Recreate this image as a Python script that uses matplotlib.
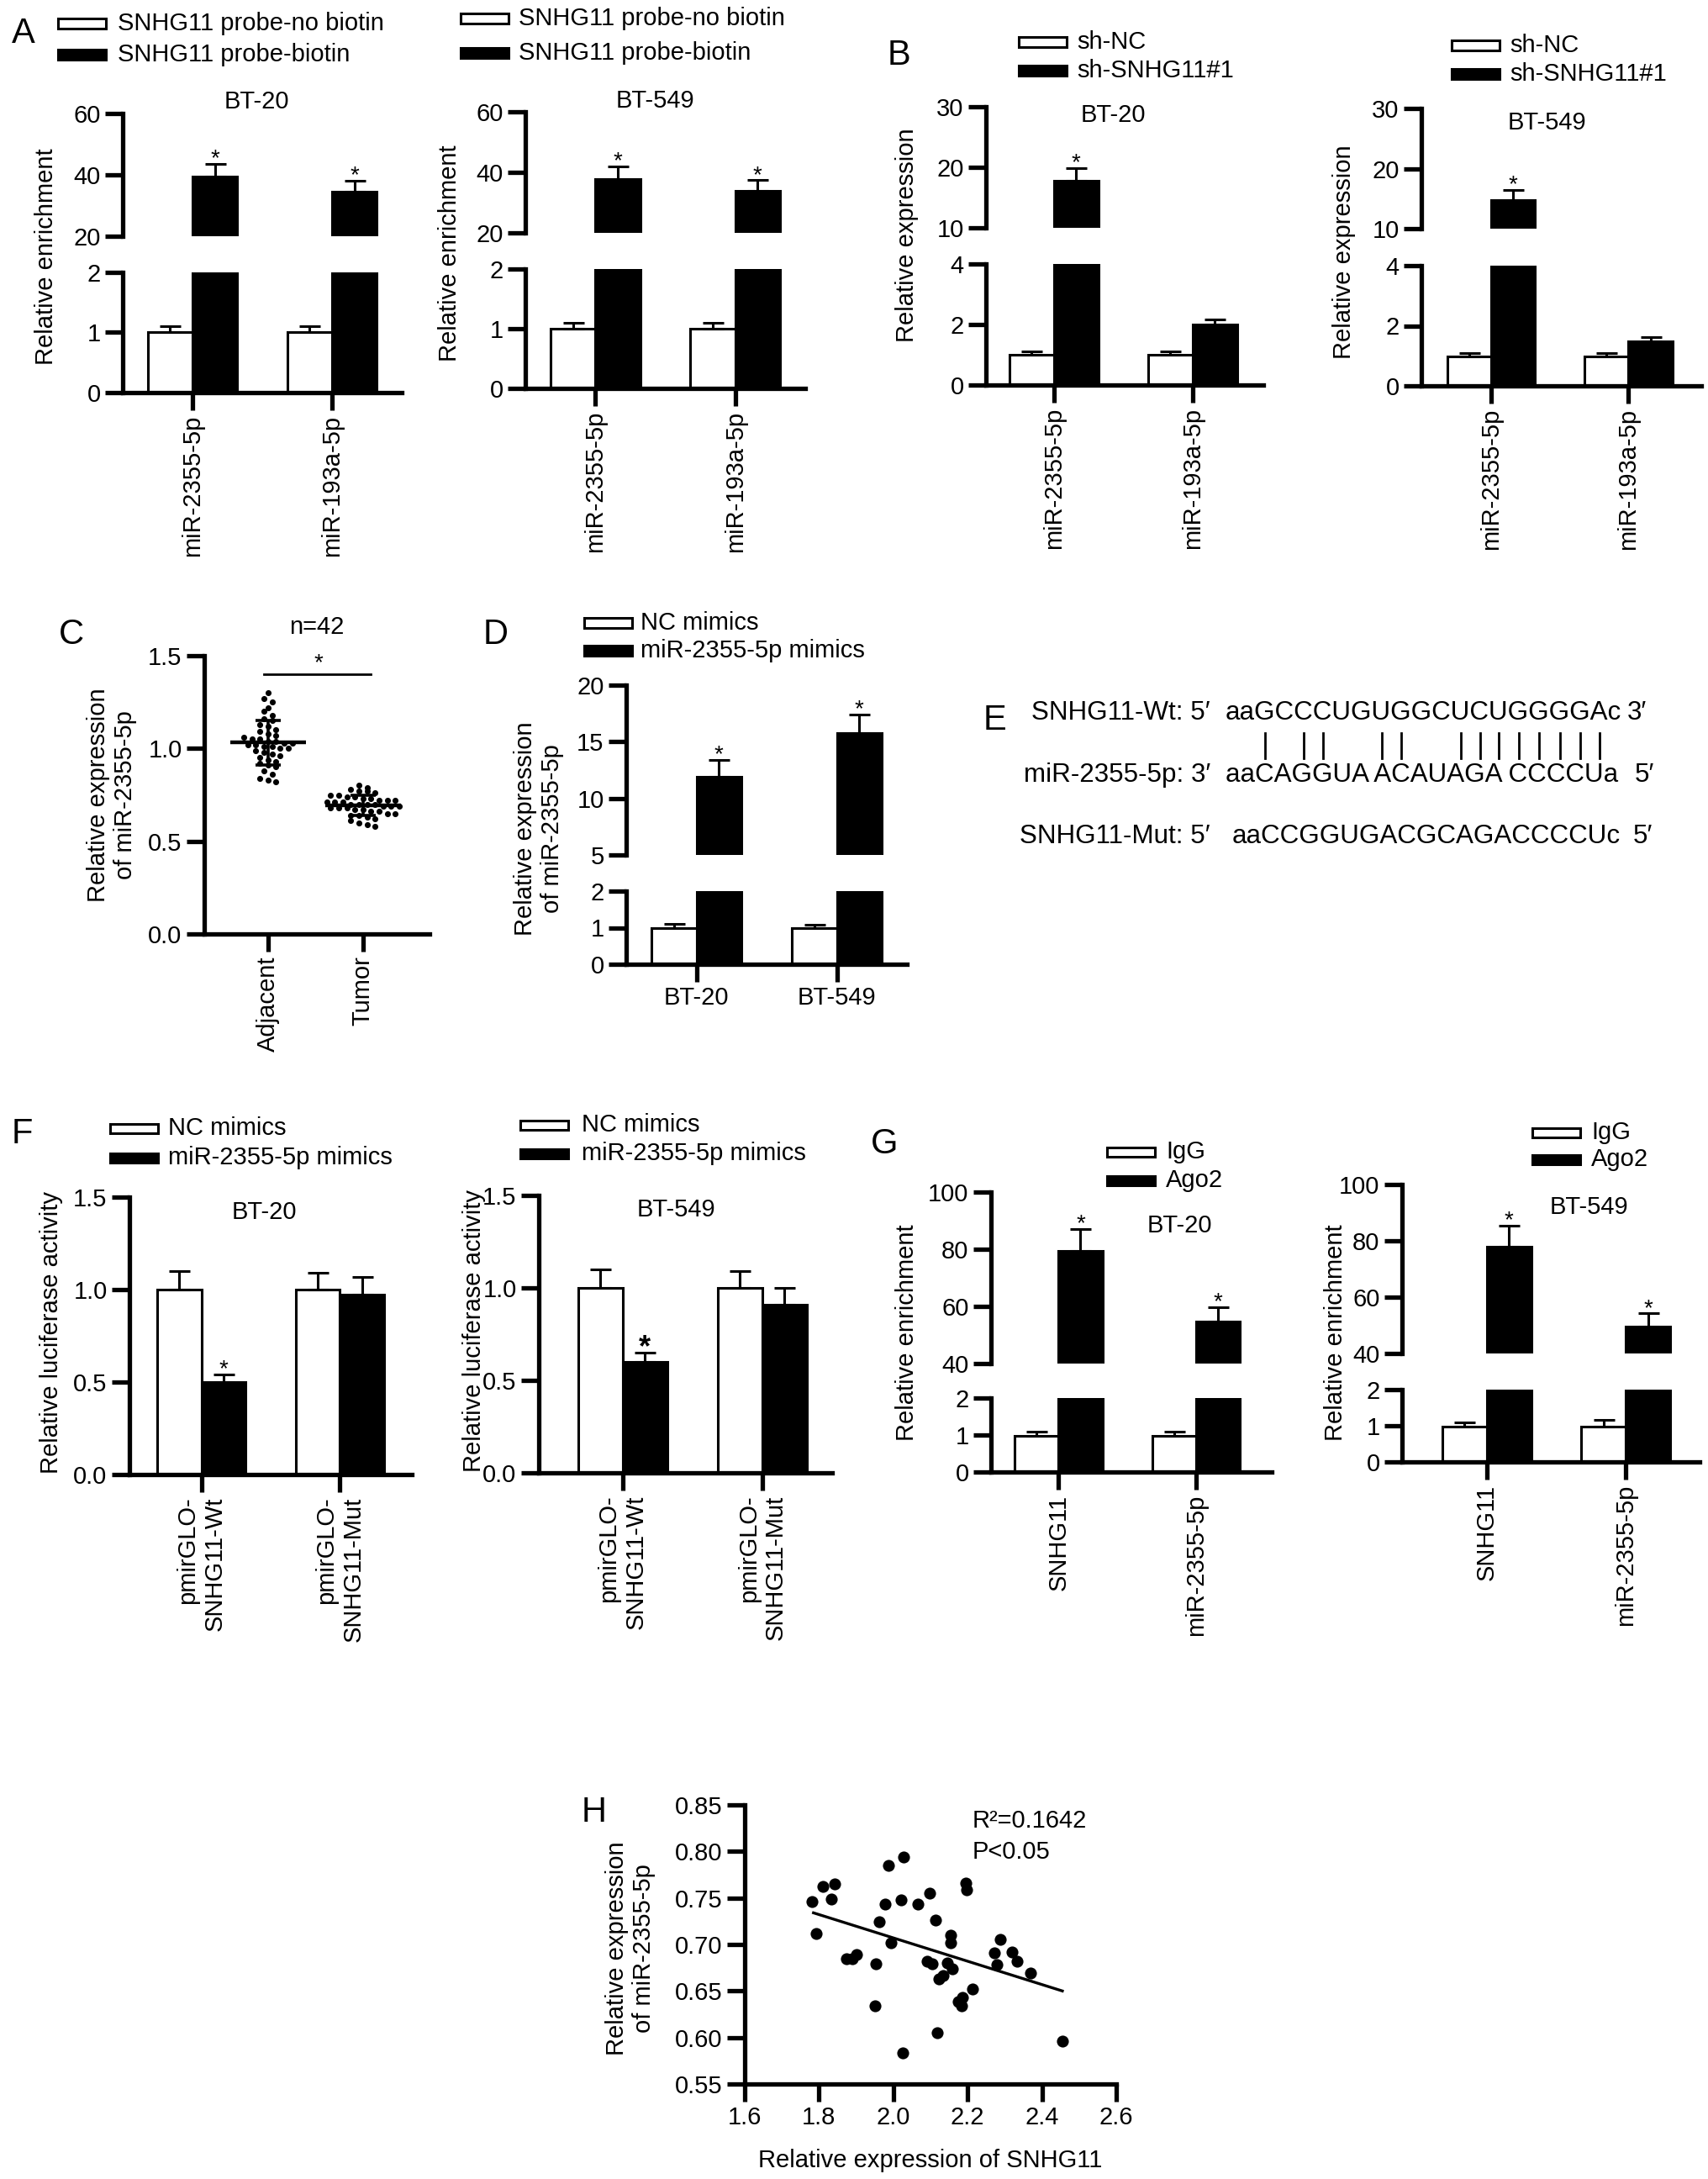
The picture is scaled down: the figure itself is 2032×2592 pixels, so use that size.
import numpy as np
import matplotlib
matplotlib.use('Agg')
import matplotlib.pyplot as plt
from matplotlib.patches import Rectangle
from matplotlib.lines import Line2D

# ---------------- data ----------------
A_cats = ['miR-2355-5p', 'miR-193a-5p']
A_legend = ['SNHG11 probe-no biotin', 'SNHG11 probe-biotin']
A_bt20_ctrl = [1.0, 1.0]
A_bt20_ctrl_err = [0.1, 0.1]
A_bt20_biot = [39.5, 34.5]
A_bt20_biot_err = [4.0, 3.6]
A_bt549_ctrl = [1.0, 1.0]
A_bt549_ctrl_err = [0.1, 0.1]
A_bt549_biot = [37.8, 33.8]
A_bt549_biot_err = [4.1, 3.6]
A_stars = [True, True]

B_cats = ['miR-2355-5p', 'miR-193a-5p']
B_legend = ['sh-NC', 'sh-SNHG11#1']
B_bt20_nc = [1.0, 1.0]
B_bt20_nc_err = [0.12, 0.12]
B_bt20_sh = [17.8, 2.0]
B_bt20_sh_err = [2.1, 0.18]
B_bt549_nc = [0.98, 0.98]
B_bt549_nc_err = [0.12, 0.12]
B_bt549_sh = [14.8, 1.47]
B_bt549_sh_err = [1.7, 0.15]
B_stars = [True, False]

C_cats = ['Adjacent', 'Tumor']
C_adjacent = [1.30, 1.27, 1.25, 1.22, 1.20, 1.18, 1.16, 1.15, 1.13, 1.12,
              1.10, 1.09, 1.08, 1.07, 1.06, 1.05, 1.05, 1.04, 1.04, 1.03,
              1.03, 1.02, 1.02, 1.01, 1.01, 1.00, 1.00, 0.99, 0.98, 0.97,
              0.96, 0.95, 0.94, 0.93, 0.92, 0.91, 0.90, 0.88, 0.86, 0.84,
              0.83, 0.82]
C_tumor = [0.80, 0.79, 0.78, 0.77, 0.77, 0.76, 0.75, 0.75, 0.74, 0.74,
           0.73, 0.73, 0.72, 0.72, 0.72, 0.71, 0.71, 0.71, 0.70, 0.70,
           0.70, 0.70, 0.69, 0.69, 0.69, 0.68, 0.68, 0.68, 0.67, 0.67,
           0.66, 0.66, 0.65, 0.65, 0.64, 0.64, 0.63, 0.62, 0.61, 0.60,
           0.59, 0.58]
C_title = 'n=42'

D_cats = ['BT-20', 'BT-549']
D_legend = ['NC mimics', 'miR-2355-5p mimics']
D_nc = [0.98, 0.98]
D_nc_err = [0.12, 0.1]
D_mim = [11.9, 15.8]
D_mim_err = [1.5, 1.6]
D_stars = [True, True]

E_labels = ['SNHG11-Wt: 5\u2032', 'miR-2355-5p: 3\u2032', 'SNHG11-Mut: 5\u2032']
E_seqs = ['aaGCCCUGUGGCUCUGGGGAc', 'aaCAGGUA ACAUAGA CCCCUa', 'aaCCGGUGACGCAGACCCCUc']
E_ends = ['3\u2032', '5\u2032', '5\u2032']
E_pairs = [2, 4, 5, 8, 9, 12, 13, 14, 15, 16, 17, 18, 19]

F_cats = ['pmirGLO-\nSNHG11-Wt', 'pmirGLO-\nSNHG11-Mut']
F_legend = ['NC mimics', 'miR-2355-5p mimics']
F_bt20_nc = [1.0, 1.0]
F_bt20_nc_err = [0.1, 0.09]
F_bt20_mim = [0.5, 0.975]
F_bt20_mim_err = [0.04, 0.095]
F_bt549_nc = [1.0, 1.0]
F_bt549_nc_err = [0.1, 0.09]
F_bt549_mim = [0.6, 0.91]
F_bt549_mim_err = [0.05, 0.09]
F_stars = [True, False]

G_cats = ['SNHG11', 'miR-2355-5p']
G_legend = ['IgG', 'Ago2']
G_bt20_igg = [0.97, 0.97]
G_bt20_igg_err = [0.12, 0.12]
G_bt20_ago = [79.5, 54.7]
G_bt20_ago_err = [7.5, 5.1]
G_bt549_igg = [0.97, 0.97]
G_bt549_igg_err = [0.13, 0.2]
G_bt549_ago = [77.9, 49.7]
G_bt549_ago_err = [7.6, 4.5]
G_stars = [True, True]

H_snhg11 = [1.782, 1.793, 1.810, 1.832, 1.842, 1.874, 1.890, 1.902, 1.953, 1.951,
            1.961, 1.977, 1.986, 1.993, 2.021, 2.027, 2.026, 2.067, 2.097, 2.091,
            2.105, 2.114, 2.118, 2.122, 2.133, 2.146, 2.154, 2.154, 2.158, 2.174,
            2.184, 2.187, 2.195, 2.198, 2.214, 2.271, 2.279, 2.287, 2.320, 2.334,
            2.370, 2.455]
H_mir = [0.746, 0.712, 0.762, 0.749, 0.765, 0.685, 0.685, 0.689, 0.679, 0.634,
         0.724, 0.743, 0.785, 0.702, 0.748, 0.794, 0.583, 0.743, 0.755, 0.682,
         0.679, 0.726, 0.605, 0.663, 0.667, 0.680, 0.710, 0.702, 0.674, 0.639,
         0.634, 0.643, 0.766, 0.759, 0.652, 0.691, 0.678, 0.705, 0.692, 0.682,
         0.669, 0.596]
H_fit_x = [1.785, 2.455]
H_fit_y = [0.734, 0.650]
H_stats = ['R\u00b2=0.1642', 'P<0.05']

# ---------------- figure setup ----------------
W, H = 2032, 2592
DPI = 200
FS = 10.5
LW = 1.9
TL = 7.5
BW = 0.32
ELW = 1.1

plt.rcParams['font.family'] = ['Liberation Sans', 'DejaVu Sans']
fig = plt.figure(figsize=(W / DPI, H / DPI), dpi=DPI)


def fx(x):
    return x / W


def fy(y):
    return 1 - y / H


def px_axes(l, r, t, b):
    ax = fig.add_axes([l / W, 1 - b / H, (r - l) / W, (b - t) / H])
    ax.patch.set_alpha(0)
    for s in ('top', 'right'):
        ax.spines[s].set_visible(False)
    for s in ('left', 'bottom'):
        ax.spines[s].set_linewidth(LW)
    ax.tick_params(direction='out', length=TL, width=LW, labelsize=FS, pad=2)
    return ax


def ftext(x, y, s, **kw):
    kw.setdefault('fontsize', FS)
    return fig.text(fx(x), fy(y), s, **kw)


def legend(px, y1, y2, tx, labels, pw=57, ph=11):
    for y, fc, lab in ((y1, 'white', labels[0]), (y2, 'black', labels[1])):
        fig.add_artist(Rectangle((fx(px), fy(y + ph / 2)), pw / W, ph / H,
                                 transform=fig.transFigure, facecolor=fc,
                                 edgecolor='black', linewidth=1.1))
        ftext(tx, y, lab, ha='left', va='center')


def draw_bars(ax, ctrl, ctrl_err, trt, trt_err):
    x = np.arange(len(ctrl))
    z = np.zeros(len(x))
    ax.bar(x - BW / 2, ctrl, BW, color='white', edgecolor='black', linewidth=1.1, zorder=2)
    ax.bar(x + BW / 2, trt, BW, color='black', edgecolor='black', linewidth=1.1, zorder=2)
    ax.errorbar(x - BW / 2, ctrl, yerr=[z, ctrl_err], fmt='none', ecolor='black',
                elinewidth=ELW, capsize=4.5, capthick=ELW, zorder=3)
    ax.errorbar(x + BW / 2, trt, yerr=[z, trt_err], fmt='none', ecolor='black',
                elinewidth=ELW, capsize=4.5, capthick=ELW, zorder=3)


def add_stars(ax, trt, trt_err, flags, size=10, weight='normal'):
    lo, hi = ax.get_ylim()
    for i, (v, e, f) in enumerate(zip(trt, trt_err, flags)):
        if f and lo < v + e <= hi * 1.05:
            ax.annotate('*', (i + BW / 2, v + e), xytext=(0, 2.0), textcoords='offset points',
                        ha='center', va='center', fontsize=size, fontweight=weight,
                        annotation_clip=False)


def broken(l, r, seg_top, seg_bot, ctrl, ctrl_err, trt, trt_err, top_lim, top_ticks,
           bot_lim, bot_ticks, xlim, cats, flags, rot=90):
    axt = px_axes(l, r, *seg_top)
    axb = px_axes(l, r, *seg_bot)
    for ax, lim, ticks in ((axt, top_lim, top_ticks), (axb, bot_lim, bot_ticks)):
        draw_bars(ax, ctrl, ctrl_err, trt, trt_err)
        ax.set_xlim(xlim)
        ax.set_ylim(lim)
        ax.set_yticks(ticks)
        add_stars(ax, trt, trt_err, flags)
    axt.spines['bottom'].set_visible(False)
    axt.tick_params(axis='x', bottom=False, labelbottom=False)
    axb.set_xticks(np.arange(len(cats)))
    axb.set_xticklabels(cats, rotation=rot)
    return axt, axb


def simple(l, r, t, b, ctrl, ctrl_err, trt, trt_err, ylim, yticks, xlim, cats, flags,
           star_size=10, star_weight='normal'):
    ax = px_axes(l, r, t, b)
    draw_bars(ax, ctrl, ctrl_err, trt, trt_err)
    ax.set_xlim(xlim)
    ax.set_ylim(ylim)
    ax.set_yticks(yticks)
    ax.set_yticklabels(['%.1f' % v for v in yticks])
    add_stars(ax, trt, trt_err, flags, size=star_size, weight=star_weight)
    ax.set_xticks(np.arange(len(cats)))
    labs = ax.set_xticklabels(cats, rotation=90)
    for lab in labs:
        lab.set_multialignment('right')
    return ax


LET = 15

# ---------------- Panel A ----------------
ftext(14, 40, 'A', fontsize=LET, ha='left', va='center')
legend(69, 28, 65, 140, A_legend)
legend(548, 22, 63, 617, A_legend)
broken(146, 478, (135, 281), (324, 467), A_bt20_ctrl, A_bt20_ctrl_err, A_bt20_biot,
       A_bt20_biot_err, (20, 60), [20, 40, 60], (0, 2), [0, 1, 2], (-0.5, 1.5), A_cats, A_stars)
broken(625, 958, (133, 277), (320, 462), A_bt549_ctrl, A_bt549_ctrl_err, A_bt549_biot,
       A_bt549_biot_err, (20, 60), [20, 40, 60], (0, 2), [0, 1, 2], (-0.5, 1.5), A_cats, A_stars)
ftext(305, 121, 'BT-20', ha='center', va='center')
ftext(779, 120, 'BT-549', ha='center', va='center')
ftext(55, 305, 'Relative enrichment', rotation=90, ha='center', va='center')
ftext(535, 301, 'Relative enrichment', rotation=90, ha='center', va='center')

# ---------------- Panel B ----------------
ftext(1056, 66, 'B', fontsize=LET, ha='left', va='center')
legend(1212, 50, 84, 1281, B_legend)
legend(1727, 54, 88, 1796, B_legend)
broken(1173, 1503, (127, 271), (314, 458), B_bt20_nc, B_bt20_nc_err, B_bt20_sh, B_bt20_sh_err,
       (10, 30), [10, 20, 30], (0, 4), [0, 2, 4], (-0.49, 1.51), B_cats, B_stars)
broken(1691, 2024, (129, 272), (316, 459), B_bt549_nc, B_bt549_nc_err, B_bt549_sh, B_bt549_sh_err,
       (10, 30), [10, 20, 30], (0, 4), [0, 2, 4], (-0.51, 1.53), B_cats, B_stars)
ftext(1324, 137, 'BT-20', ha='center', va='center')
ftext(1840, 146, 'BT-549', ha='center', va='center')
ftext(1079, 280, 'Relative expression', rotation=90, ha='center', va='center')
ftext(1599, 300, 'Relative expression', rotation=90, ha='center', va='center')

# ---------------- Panel C ----------------
ftext(70, 755, 'C', fontsize=LET, ha='left', va='center')
ftext(377, 746, C_title, ha='center', va='center')
axc = px_axes(243, 511, 780, 1111)


def swarm(vals, center, bw=0.035, dx=0.085):
    v = np.asarray(vals, dtype=float)
    xs = np.empty(len(v))
    bins = np.floor((v - v.min()) / bw + 1e-9).astype(int)
    for b in np.unique(bins):
        idx = np.where(bins == b)[0]
        n = len(idx)
        xs[idx] = center + (np.arange(n) - (n - 1) / 2) * dx
    return xs


for i, vals in enumerate((C_adjacent, C_tumor)):
    xs = swarm(vals, i)
    axc.scatter(xs, vals, s=6.5, color='black', zorder=3, linewidths=0)
    m = np.mean(vals)
    sd = np.std(vals, ddof=1)
    axc.hlines(m, i - 0.4, i + 0.4, color='black', lw=1.6, zorder=4)
    axc.errorbar([i], [m], yerr=[[sd], [sd]], fmt='none', ecolor='black', elinewidth=1.3,
                 capsize=5.5, capthick=1.3, zorder=4)
axc.set_xlim(-0.67, 1.70)
axc.set_ylim(0, 1.5)
axc.set_yticks([0, 0.5, 1.0, 1.5])
axc.set_yticklabels(['0.0', '0.5', '1.0', '1.5'])
axc.set_xticks([0, 1])
axc.set_xticklabels(C_cats, rotation=90)
axc.plot([-0.04, 1.08], [1.40, 1.40], color='black', lw=1.0, clip_on=False)
axc.text(0.53, 1.46, '*', ha='center', va='center', fontsize=10)
ftext(133, 946, 'Relative expression\nof miR-2355-5p', rotation=90, ha='center', va='center',
      multialignment='center')

# ---------------- Panel D ----------------
ftext(575, 755, 'D', fontsize=LET, ha='left', va='center')
legend(695, 741, 774, 762, D_legend)
broken(745, 1079, (815, 1017), (1060, 1147), D_nc, D_nc_err, D_mim, D_mim_err,
       (5, 20), [5, 10, 15, 20], (0, 2), [0, 1, 2], (-0.5, 1.5), D_cats, D_stars, rot=0)
ftext(641, 986, 'Relative expression\nof miR-2355-5p', rotation=90, ha='center', va='center',
      multialignment='center')

# ---------------- Panel E ----------------
EFS = 11.3
ftext(1170, 857, 'E', fontsize=LET, ha='left', va='center')
E_y = [848, 922, 995]
E_seq_x = [1458, 1458, 1466]
E_end_x = [1936, 1945, 1943]
for lab, seq, end, y, sx, ex in zip(E_labels, E_seqs, E_ends, E_y, E_seq_x, E_end_x):
    ftext(1440, y, lab, fontsize=EFS, ha='right', va='center')
    ftext(sx, y, seq, fontsize=EFS, ha='left', va='center')
    ftext(ex, y, end, fontsize=EFS, ha='left', va='center')

renderer = fig.canvas.get_renderer()
wt = E_seqs[0]
widths = []
for i in range(len(wt) + 1):
    if i == 0:
        widths.append(0.0)
        continue
    t = ftext(E_seq_x[0], E_y[0], wt[:i], fontsize=EFS, ha='left', va='center')
    widths.append(t.get_window_extent(renderer).width)
    t.remove()
for k in E_pairs:
    cx = E_seq_x[0] + (widths[k] + widths[k + 1]) / 2
    fig.add_artist(Line2D([fx(cx), fx(cx)], [fy(872), fy(902)], transform=fig.transFigure,
                          color='black', lw=1.0))

# ---------------- Panel F ----------------
ftext(14, 1349, 'F', fontsize=LET, ha='left', va='center')
legend(131, 1342, 1377, 200, F_legend)
legend(619, 1338, 1372, 692, F_legend)
simple(154, 490, 1424, 1754, F_bt20_nc, F_bt20_nc_err, F_bt20_mim, F_bt20_mim_err,
       (0, 1.5), [0, 0.5, 1.0, 1.5], (-0.52, 1.52), F_cats, F_stars)
simple(641, 990, 1422, 1752, F_bt549_nc, F_bt549_nc_err, F_bt549_mim, F_bt549_mim_err,
       (0, 1.5), [0, 0.5, 1.0, 1.5], (-0.6, 1.5), F_cats, F_stars, star_size=13, star_weight='bold')
ftext(314, 1442, 'BT-20', ha='center', va='center')
ftext(804, 1439, 'BT-549', ha='center', va='center')
ftext(61, 1585, 'Relative luciferase activity', rotation=90, ha='center', va='center')
ftext(564, 1583, 'Relative luciferase activity', rotation=90, ha='center', va='center')

# ---------------- Panel G ----------------
ftext(1036, 1361, 'G', fontsize=LET, ha='left', va='center')
legend(1317, 1370, 1404, 1387, G_legend)
legend(1823, 1347, 1379, 1893, G_legend)
broken(1179, 1513, (1418, 1622), (1663, 1751), G_bt20_igg, G_bt20_igg_err, G_bt20_ago,
       G_bt20_ago_err, (40, 100), [40, 60, 80, 100], (0, 2), [0, 1, 2], (-0.49, 1.55), G_cats, G_stars)
broken(1668, 2022, (1409, 1610), (1653, 1739), G_bt549_igg, G_bt549_igg_err, G_bt549_ago,
       G_bt549_ago_err, (40, 100), [40, 60, 80, 100], (0, 2), [0, 1, 2], (-0.61, 1.53), G_cats, G_stars)
ftext(1403, 1458, 'BT-20', ha='center', va='center')
ftext(1890, 1436, 'BT-549', ha='center', va='center')
ftext(1079, 1585, 'Relative enrichment', rotation=90, ha='center', va='center')
ftext(1589, 1585, 'Relative enrichment', rotation=90, ha='center', va='center')

# ---------------- Panel H ----------------
ftext(692, 2156, 'H', fontsize=LET, ha='left', va='center')
axh = px_axes(886, 1328, 2147, 2479)
axh.scatter(H_snhg11, H_mir, s=26, color='black', linewidths=0, zorder=3)
axh.plot(H_fit_x, H_fit_y, color='black', lw=1.2, zorder=2)
axh.set_xlim(1.6, 2.6)
axh.set_ylim(0.55, 0.85)
xt = [1.6, 1.8, 2.0, 2.2, 2.4, 2.6]
yt = [0.55, 0.60, 0.65, 0.70, 0.75, 0.80, 0.85]
axh.set_xticks(xt)
axh.set_xticklabels(['%.1f' % v for v in xt])
axh.set_yticks(yt)
axh.set_yticklabels(['%.2f' % v for v in yt])
ftext(1157, 2166, H_stats[0], ha='left', va='center')
ftext(1157, 2203, H_stats[1], ha='left', va='center')
ftext(750, 2318, 'Relative expression\nof miR-2355-5p', rotation=90, ha='center', va='center',
      multialignment='center')
ftext(1107, 2570, 'Relative expression of SNHG11', ha='center', va='center')

fig.savefig('out.png', dpi=DPI)
